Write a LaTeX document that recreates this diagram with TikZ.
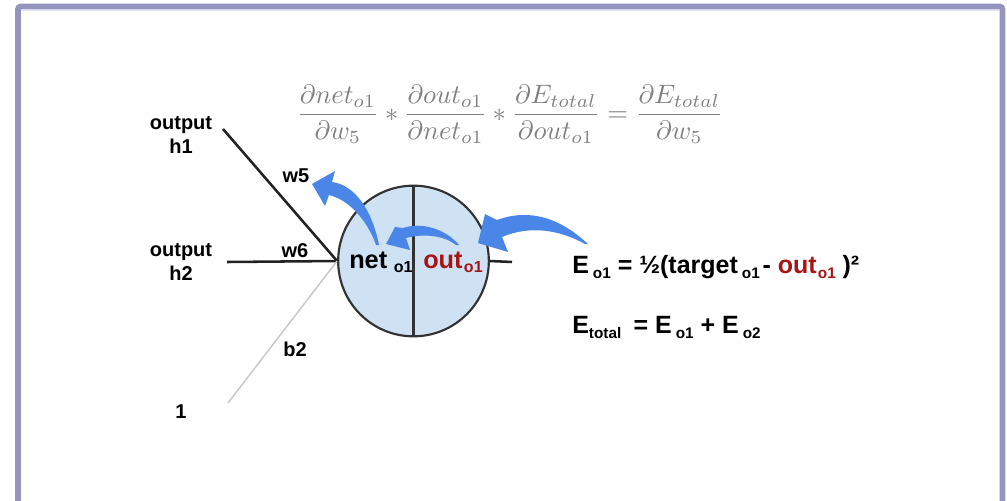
\documentclass[tikz,border=0pt]{standalone}
\usepackage[no-math]{fontspec}
\setmainfont{Liberation Sans}
\usepackage{graphicx}
\definecolor{framecol}{RGB}{148,148,192}
\definecolor{framelight}{RGB}{222,222,242}
\definecolor{arrowblue}{RGB}{74,134,232}
\definecolor{cellfill}{RGB}{207,226,243}
\definecolor{cellline}{RGB}{50,50,50}
\definecolor{wirecol}{RGB}{34,34,34}
\definecolor{darkred}{RGB}{166,20,20}
\definecolor{formulagray}{RGB}{128,128,128}
\definecolor{biasgray}{RGB}{200,200,200}
\newcommand{\sublo}[1]{\raisebox{-0.2em}{\fontsize{11.5}{12}\selectfont #1}}
\newcommand{\subcell}[1]{\raisebox{-0.17em}{\fontsize{12}{13}\selectfont #1}}
\tikzset{
  wire/.style={line width=1.9pt, draw=wirecol},
  biaswire/.style={line width=1.1pt, draw=biasgray},
  lbl/.style={font=\fontsize{15}{17.5}\selectfont\bfseries, inner sep=0pt},
  celltext/.style={font=\fontsize{19}{20}\selectfont\bfseries, inner sep=0pt, anchor=base west},
  eqtext/.style={font=\fontsize{18.75}{20}\selectfont\bfseries, inner sep=0pt, anchor=base west},
  gradarrow/.style={fill=arrowblue}
}
\begin{document}
\begin{tikzpicture}[x=0.75pt,y=-0.75pt]
\useasboundingbox (0,0) rectangle (1007,500);
\fill[white] (0,0) rectangle (1007,500);
% open frame around the slide
\draw[framecol, line width=4.2pt, rounded corners=2pt] (18,520) -- (18,6.5) -- (1002.5,6.5) -- (1002.5,520);
\draw[framelight, line width=0.8pt] (21.5,10.2) -- (999,10.2);

% chain rule
\node[text=formulagray, inner sep=0pt] (chain) at (510,114)
  {\resizebox{320pt}{!}{$\displaystyle \frac{\partial net_{o1}}{\partial w_5} * \frac{\partial out_{o1}}{\partial net_{o1}} * \frac{\partial E_{total}}{\partial out_{o1}} = \frac{\partial E_{total}}{\partial w_5}$}};

% neuron o1
\node[circle, draw=cellline, line width=1.6pt, fill=cellfill, minimum size=113pt, inner sep=0pt] (neuron) at (413.5,261) {};
\draw[cellline, line width=1.6pt] (neuron.north) -- (neuron.south);

% inputs
\node[lbl, align=center] (h1) at (181,135) {output\\h1};
\node[lbl, align=center] (h2) at (181,262) {output\\h2};
\node[lbl] (one) at (181,412) {1};
\coordinate (h1tail) at (223,129);
\coordinate (h2tail) at (227,262);
\coordinate (onetail) at (228,403);
\draw[wire] (h1tail) -- (neuron.west);
\draw[wire] (h2tail) -- (neuron.west);
\draw[biaswire] (onetail) -- (neuron.west);
\coordinate (outstub) at (512,262);
\draw[wire] (neuron.east) -- (outstub);

\node[lbl] (w5) at (296,176) {w5};
\node[lbl] (w6) at (295,251) {w6};
\node[lbl] (b2) at (295,349) {b2};

% cell contents
\node[celltext] (net) at (349,268) {net\hspace{5pt}\subcell{o1}};
\node[celltext, text=darkred] (out) at (423,268) {out\hspace{1pt}\subcell{o1}};

% backward arrows
\fill[gradarrow] (379,245) .. controls (372,210) and (355,185) .. (332,182) -- (335,171) -- (312,184) -- (325,206) -- (329,195) .. controls (350,200) and (368,222) .. (376,245) -- cycle;
\fill[gradarrow] (459,245) .. controls (445,228) and (420,222) .. (403,228) -- (395,227) -- (386,244) -- (410,250) -- (406,238) .. controls (425,233) and (445,236) .. (456,245) -- cycle;
\fill[gradarrow] (588,244) .. controls (560,218) and (530,208) .. (497,220) -- (485,214) -- (478,243) -- (508,252) -- (502,237) .. controls (530,225) and (560,230) .. (585,244) -- cycle;

% error terms
\node[eqtext] (eo1) at (572,273) {E\hspace{3pt}\sublo{o1} = ½(target\hspace{3pt}\sublo{o1}\hspace{2pt}- \textcolor{darkred}{out\hspace{1pt}\sublo{o1}}\hspace{5pt})²};
\node[eqtext] (etot) at (572,333) {E\sublo{total}\hspace{4pt} = E\hspace{3pt}\sublo{o1} + E\hspace{3pt}\sublo{o2}};
\end{tikzpicture}
\end{document}
